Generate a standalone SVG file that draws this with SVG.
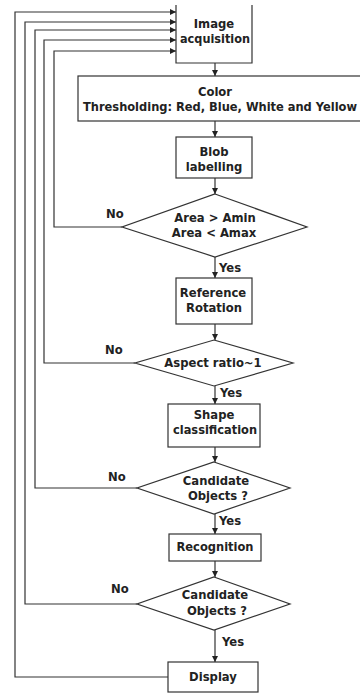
<svg xmlns="http://www.w3.org/2000/svg" width="360" height="693" viewBox="0 0 360 693">
<style>
.box{fill:#fff;stroke:#333;stroke-width:1.2}
.ln{fill:none;stroke:#333;stroke-width:1.2}
.t{font-family:"DejaVu Sans",Verdana,sans-serif;font-weight:bold;font-size:11.6px;fill:#222;text-anchor:middle}
.l{font-family:"DejaVu Sans",Verdana,sans-serif;font-weight:bold;font-size:11.6px;fill:#222}
</style>
<defs>
<marker id="ah" viewBox="0 0 6 6" refX="6" refY="3" markerWidth="6" markerHeight="6" markerUnits="userSpaceOnUse" orient="auto">
<path d="M0,0 L6,3 L0,6 Z" fill="#222"/>
</marker>
</defs>
<rect width="360" height="693" fill="#fff"/>
<g id="connectors">
<path class="ln" d="M215,63 V76" marker-end="url(#ah)"/>
<path class="ln" d="M215,121 V137" marker-end="url(#ah)"/>
<path class="ln" d="M215,178 V194" marker-end="url(#ah)"/>
<path class="ln" d="M215,257 V278" marker-end="url(#ah)"/>
<path class="ln" d="M215,324 V340" marker-end="url(#ah)"/>
<path class="ln" d="M215,386 V404" marker-end="url(#ah)"/>
<path class="ln" d="M215,447 V462" marker-end="url(#ah)"/>
<path class="ln" d="M215,514 V534" marker-end="url(#ah)"/>
<path class="ln" d="M215,561 V577" marker-end="url(#ah)"/>
<path class="ln" d="M215,630 V662" marker-end="url(#ah)"/>
<path class="ln" d="M122,227 H54 V51 H176" marker-end="url(#ah)"/>
<path class="ln" d="M135,363 H44 V40 H176" marker-end="url(#ah)"/>
<path class="ln" d="M137,488 H35 V30 H176" marker-end="url(#ah)"/>
<path class="ln" d="M137,604 H25 V22 H176" marker-end="url(#ah)"/>
<path class="ln" d="M168,677 H15 V12 H176" marker-end="url(#ah)"/>
<text class="l" x="106" y="218">No</text>
<text class="l" x="105" y="354">No</text>
<text class="l" x="108" y="481">No</text>
<text class="l" x="111" y="593">No</text>
<text class="l" x="219" y="272">Yes</text>
<text class="l" x="220" y="397">Yes</text>
<text class="l" x="219" y="525">Yes</text>
<text class="l" x="222" y="646">Yes</text>
</g>
<g id="image-acquisition">
<path class="box" d="M176,5 V63 H252 V5"/>
<text class="t" x="214" y="28">Image</text>
<text class="t" x="215" y="43" textLength="70" lengthAdjust="spacingAndGlyphs">acquisition</text>
</g>
<g id="color-thresholding">
<rect class="box" x="78" y="76" width="290" height="45"/>
<text class="t" x="215" y="96">Color</text>
<text class="t" x="220" y="111" textLength="274" lengthAdjust="spacingAndGlyphs">Thresholding: Red, Blue, White and Yellow</text>
</g>
<g id="blob-labelling">
<rect class="box" x="176" y="137" width="76" height="41"/>
<text class="t" x="214" y="156">Blob</text>
<text class="t" x="214" y="171">labelling</text>
</g>
<g id="area-check">
<polygon class="box" points="215,194 307,227 215,257 122,227"/>
<text class="t" x="215" y="222">Area &gt; Amin</text>
<text class="t" x="214" y="237">Area &lt; Amax</text>
</g>
<g id="reference-rotation">
<rect class="box" x="176" y="278" width="76" height="46"/>
<text class="t" x="213" y="297">Reference</text>
<text class="t" x="214" y="312">Rotation</text>
</g>
<g id="aspect-ratio">
<polygon class="box" points="214,340 293,363 214,386 135,363"/>
<text class="t" x="213" y="367">Aspect ratio~1</text>
</g>
<g id="shape-classification">
<rect class="box" x="168" y="404" width="92" height="43"/>
<text class="t" x="214" y="419">Shape</text>
<text class="t" x="215" y="434" textLength="84" lengthAdjust="spacingAndGlyphs">classification</text>
</g>
<g id="candidate-objects-1">
<polygon class="box" points="214,462 290,488 214,514 137,488"/>
<text class="t" x="216" y="485">Candidate</text>
<text class="t" x="218" y="500">Objects ?</text>
</g>
<g id="recognition">
<rect class="box" x="169" y="534" width="92" height="27"/>
<text class="t" x="215" y="551" textLength="77" lengthAdjust="spacingAndGlyphs">Recognition</text>
</g>
<g id="candidate-objects-2">
<polygon class="box" points="214,577 290,604 214,630 137,604"/>
<text class="t" x="215" y="599">Candidate</text>
<text class="t" x="217" y="615">Objects ?</text>
</g>
<g id="display">
<rect class="box" x="168" y="662" width="90" height="30"/>
<text class="t" x="213" y="681">Display</text>
</g>
</svg>
